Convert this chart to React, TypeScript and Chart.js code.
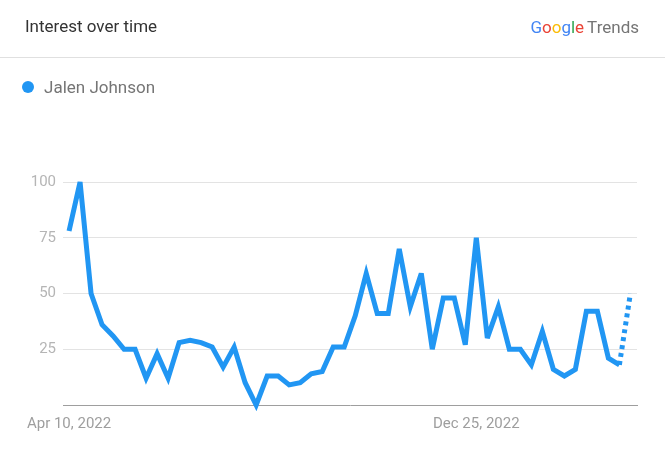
import React, { useEffect, useRef } from "react";
import { Chart, registerables } from "chart.js";

Chart.register(...registerables);

const seriesName = "Jalen Johnson";
const interest = [
  78, 100, 50, 36, 31, 25, 25, 12, 23, 12, 28, 29, 28, 26, 17, 26, 10, 0, 13, 13,
  9, 10, 14, 15, 26, 26, 40, 59, 41, 41, 70, 44, 59, 25, 48, 48, 27, 75, 30, 44,
  25, 25, 18, 33, 16, 13, 16, 42, 42, 21, 18, 50,
];
const xTickIndices = [0, 37];
const xTickLabels = ["Apr 10, 2022", "Dec 25, 2022"];
const yTickValues = [25, 50, 75, 100];

const LINE_COLOR = "#2196f3";
const FONT = "Roboto, 'Noto Sans', sans-serif";

const miterPlugin = {
  id: "miterLimit",
  beforeDatasetsDraw(chart: any) {
    chart.ctx.miterLimit = 4;
  },
};

export default function App() {
  const ref = useRef<HTMLCanvasElement>(null);

  useEffect(() => {
    document.body.style.margin = "0";
    const canvas = ref.current!;
    const chart = new Chart(canvas, {
      type: "line",
      data: {
        datasets: [
          {
            label: seriesName,
            data: interest.map((v, i) => ({ x: i, y: v })),
            borderColor: LINE_COLOR,
            backgroundColor: LINE_COLOR,
            borderWidth: 5,
            pointRadius: 0,
            pointHoverRadius: 0,
            tension: 0,
            fill: false,
            clip: false as any,
            borderCapStyle: "butt",
            borderJoinStyle: "miter",
            segment: {
              borderDash: (ctx: any) =>
                ctx.p1DataIndex === interest.length - 1 ? [4, 4] : undefined,
            },
          } as any,
        ],
      },
      plugins: [miterPlugin],
      options: {
        animation: false,
        responsive: false,
        maintainAspectRatio: false,
        events: [],
        layout: { padding: { left: 0, right: 28, top: 182, bottom: 0 } },
        plugins: { legend: { display: false }, tooltip: { enabled: false } },
        scales: {
          x: {
            type: "linear",
            bounds: "data",
            min: -0.55,
            max: 51.6,
            grid: { display: false },
            border: { display: true, color: "#9e9e9e", width: 1 },
            afterBuildTicks: (s: any) => {
              s.ticks = xTickIndices.map((v) => ({ value: v }));
            },
            afterFit: (s: any) => {
              s.height = 45;
            },
            ticks: {
              autoSkip: false,
              maxRotation: 0,
              padding: 2,
              color: "#9e9e9e",
              font: { family: FONT, size: 15 },
              callback: (v: any) => {
                const k = xTickIndices.indexOf(Number(v));
                return k >= 0 ? xTickLabels[k] : "";
              },
            },
          },
          y: {
            min: 0,
            max: 100,
            afterBuildTicks: (s: any) => {
              s.ticks = [0, ...yTickValues].map((v) => ({ value: v }));
            },
            afterFit: (s: any) => {
              s.width = 63;
            },
            grid: {
              color: (ctx: any) =>
                ctx.tick && ctx.tick.value === 0 ? "rgba(0,0,0,0)" : "#e3e3e3",
              lineWidth: 1,
              drawTicks: false,
            },
            border: { display: false },
            ticks: {
              padding: 7,
              color: "#b5b5b5",
              font: { family: FONT, size: 15 },
              callback: (v: any) => (Number(v) === 0 ? "" : String(v)),
            },
          },
        },
      },
    } as any);
    return () => chart.destroy();
  }, []);

  const logo = [
    { ch: "G", c: "#4285f4" },
    { ch: "o", c: "#ea4335" },
    { ch: "o", c: "#fbbc05" },
    { ch: "g", c: "#4285f4" },
    { ch: "l", c: "#34a853" },
    { ch: "e", c: "#ea4335" },
  ];

  return (
    <div
      style={{
        position: "absolute",
        left: 0,
        top: 0,
        width: 665,
        height: 450,
        background: "#fff",
        fontFamily: FONT,
        overflow: "hidden",
      }}
    >
      <canvas
        ref={ref}
        width={665}
        height={450}
        style={{ position: "absolute", left: 0, top: 0, width: 665, height: 450 }}
      />
      <div
        style={{
          position: "absolute",
          left: 25,
          top: 16,
          fontSize: 17,
          lineHeight: "20px",
          color: "#333",
        }}
      >
        Interest over time
      </div>
      <div
        style={{
          position: "absolute",
          right: 26,
          top: 17,
          fontSize: 17,
          lineHeight: "20px",
          whiteSpace: "nowrap",
        }}
      >
        {logo.map((l, i) => (
          <span key={i} style={{ color: l.c }}>
            {l.ch}
          </span>
        ))}
        <span style={{ color: "#757575", marginLeft: 3 }}>Trends</span>
      </div>
      <div
        style={{
          position: "absolute",
          left: 0,
          top: 57,
          width: 665,
          height: 1,
          background: "#e0e0e0",
        }}
      />
      <div
        style={{
          position: "absolute",
          left: 22,
          top: 81,
          width: 12,
          height: 12,
          borderRadius: "50%",
          background: LINE_COLOR,
        }}
      />
      <div
        style={{
          position: "absolute",
          left: 44,
          top: 77,
          fontSize: 17,
          lineHeight: "20px",
          color: "#757575",
        }}
      >
        {seriesName}
      </div>
    </div>
  );
}
